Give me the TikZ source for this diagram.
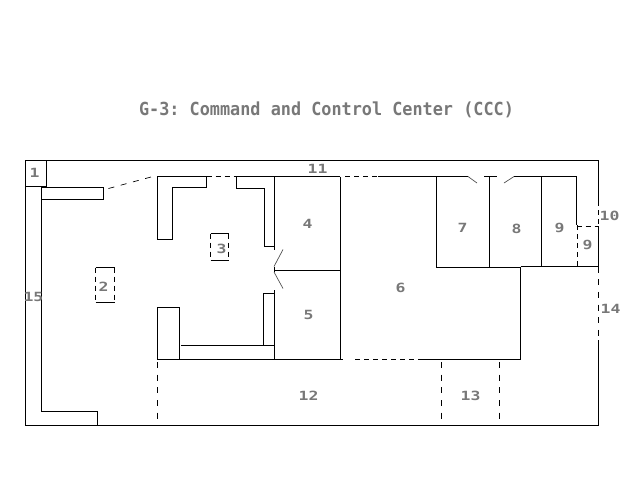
\documentclass[tikz,border=0pt]{standalone}
\usepackage{fontspec}
\newfontfamily\titlefont[FakeStretch=0.935]{DejaVu Sans Mono}
\newfontfamily\roomfont[FakeStretch=1.3]{DejaVu Sans Mono}
\definecolor{labelgray}{gray}{0.47}
\tikzset{
  wall/.style={draw=black,line width=0.75pt},
  openwall/.style={wall,dash pattern=on 3.75pt off 3pt},
  longwall/.style={wall,dash pattern=on 4.5pt off 5pt},
  doorleaf/.style={draw=black!70,line width=0.5pt},
  roomlabel/.style={text=labelgray,font=\roomfont\bfseries\fontsize{9.5}{10}\selectfont,inner sep=0pt},
  titlelabel/.style={text=labelgray,font=\titlefont\bfseries\fontsize{13.5}{15}\selectfont,inner sep=0pt}
}
\begin{document}
\begin{tikzpicture}[x=0.75pt,y=-0.75pt]
\useasboundingbox (0,0) rectangle (640,480);
\node[titlelabel] (title) at (326.5,109.5) {\frenchspacing G-3: Command and Control Center (CCC)};
\draw[wall] (598,201) -- (598,160.5) -- (25.5,160.5) -- (25.5,425.5) -- (598,425.5) -- (598,340);
\draw[wall] (598,226) -- (598,266.5);
\draw[openwall] (598,201) -- (598,226);
\draw[longwall] (598,266.5) -- (598,340);
\draw[wall] (25.5,186) -- (46,186) -- (46,160.5);
\draw[wall] (41.5,186) -- (41.5,411) -- (97.5,411) -- (97.5,425.5);
\draw[wall] (41.5,187.5) -- (103,187.5) -- (103,199.5) -- (41.5,199.5);
\draw[longwall,line width=0.5pt] (108.5,188.5) -- (151,177);
\draw[wall] (157.5,239) -- (157.5,176.5) -- (206.5,176.5) -- (206.5,187.5) -- (172,187.5) -- (172,239) -- cycle;
\draw[openwall] (206.5,176.5) -- (236,176.5);
\draw[wall] (264.5,246.5) -- (264.5,188.5) -- (236,188.5) -- (236,176.5) -- (340,176.5);
\draw[wall] (264.5,246.5) -- (274.5,246.5);
\draw[wall] (274.5,176.5) -- (274.5,250);
\draw[doorleaf] (274,266.5) -- (283,249.5);
\draw[doorleaf] (274,272) -- (283,288.5);
\draw[wall] (274.5,266.5) -- (274.5,272);
\draw[wall] (274.5,270) -- (340,270);
\draw[wall] (263.5,345.5) -- (263.5,293) -- (274.5,293);
\draw[wall] (274.5,290) -- (274.5,359.5);
\draw[wall] (181,345.5) -- (274.5,345.5);
\draw[wall] (157.5,359.5) -- (157.5,307.5) -- (179.5,307.5) -- (179.5,359.5);
\draw[wall] (157.5,359.5) -- (343,359.5);
\draw[openwall] (355,359.5) -- (421,359.5);
\draw[wall] (421,359.5) -- (520.5,359.5) -- (520.5,266.5);
\draw[wall] (340,176.5) -- (340,359.5);
\draw[openwall] (345,176.5) -- (378,176.5);
\draw[wall] (378,176.5) -- (468,176.5);
\draw[doorleaf] (468,176.5) -- (477,183);
\draw[wall] (484,176.5) -- (497,176.5);
\draw[doorleaf] (504,183) -- (514,176.5);
\draw[wall] (514,176.5) -- (576.5,176.5) -- (576.5,225);
\draw[openwall] (577.5,225) -- (577.5,266.5);
\draw[openwall] (576.5,226) -- (598,226);
\draw[wall] (436,176.5) -- (436,267) -- (520.5,267);
\draw[wall] (489.5,176.5) -- (489.5,267);
\draw[wall] (541.5,176.5) -- (541.5,266.5);
\draw[wall] (520.5,266.5) -- (598,266.5);
\draw[longwall] (157.5,362) -- (157.5,425.5);
\draw[longwall] (441.5,362) -- (441.5,425.5);
\draw[longwall] (499.5,362) -- (499.5,425.5);
\draw[wall] (95.5,267.5) -- (114.5,267.5);
\draw[wall] (95.5,302.5) -- (114.5,302.5);
\draw[openwall] (95.5,267.5) -- (95.5,302.5);
\draw[openwall] (114.5,267.5) -- (114.5,302.5);
\draw[wall] (210.5,233.5) -- (228.5,233.5);
\draw[wall] (210.5,260.5) -- (228.5,260.5);
\draw[openwall] (210.5,233.5) -- (210.5,260.5);
\draw[openwall] (228.5,233.5) -- (228.5,260.5);
\foreach \px/\py/\id/\txt in {34.5/173/a/1,103.5/287/b/2,221.5/249/c/3,307.5/224/d/4,308.5/315/e/5,400.5/288/f/6,462.5/228/g/7,516.5/229/h/8,559.5/228/i/9,587.5/245/j/9,609.5/216/k/10,317.5/169/l/11,308.5/396/m/12,470.5/396/n/13,610.5/309/o/14,33.5/297/p/15}
    \node[roomlabel] (room\id) at (\px,\py) {\txt};
\end{tikzpicture}
\end{document}
